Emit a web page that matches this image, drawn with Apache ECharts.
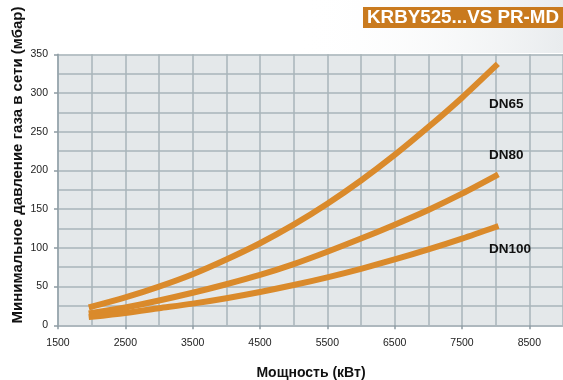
<!DOCTYPE html>
<html>
<head>
<meta charset="utf-8">
<script src="https://cdn.jsdelivr.net/npm/echarts@6/dist/echarts.min.js"></script>
<style>
html,body{margin:0;padding:0;background:#fff;}
#c{width:563px;height:380px;}
</style>
</head>
<body>
<div id="c"></div>
<script>
var power = [2000, 2500, 3000, 3500, 4000, 4500, 5000, 5500, 6000, 6500, 7000, 7500, 8000];
var dn65  = [24, 36, 50, 66, 85, 106, 130, 157, 187, 220, 256, 294, 335];
var dn80  = [16, 23, 32, 42, 53, 65, 79, 95, 112, 130, 149, 170, 193];
var dn100 = [11, 16, 22, 28, 35, 43, 52, 62, 73, 85, 98, 112, 127];
var seriesNames = ['DN65', 'DN80', 'DN100'];
var labelAnchors = [[7900, 286], [7900, 219], [7900, 98]];
var titleText = 'KRBY525...VS PR-MD';
var xTitle = 'Мощность (кВт)';
var yTitle = 'Минимальное давление газа в сети (мбар)';

function pairs(vals){ return power.map(function(p,i){ return [p, vals[i]]; }); }

var chart = echarts.init(document.getElementById('c'), null, {renderer:'canvas'});
var gridCol = '#a9b4ba';
var lineCol = '#da8a2b';
var allVals = [dn65, dn80, dn100];
var font = 'Liberation Sans, Arial, sans-serif';

var series = allVals.map(function(v, i){
  return {
    name: seriesNames[i], type: 'line', data: pairs(v), smooth: 0.3,
    showSymbol: false, symbol: 'none',
    lineStyle: {color: lineCol, width: 6, cap: 'square'},
    z: 5,
    markPoint: {
      symbol: 'circle', symbolSize: 0, silent: true,
      data: [{coord: labelAnchors[i], value: seriesNames[i]}],
      label: {show: true, position: [0, 0], align: 'left', verticalAlign: 'middle',
        formatter: seriesNames[i], color: '#111', fontWeight: 'bold', fontSize: 13.5,
        fontFamily: font}
    }
  };
});

chart.setOption({
  animation: false,
  backgroundColor: '#fff',
  grid: {left: 58, right: -2.5, top: 54.3, bottom: 54.7, show: true,
    backgroundColor: '#e4e8ea', borderWidth: 0},
  xAxis: [{
    type: 'value', min: 1500, max: 9000, interval: 1000,
    axisLine: {show: true, lineStyle: {color: gridCol, width: 1.5}},
    axisTick: {show: true, length: 4, lineStyle: {color: '#8d9ba3', width: 1.5}},
    axisLabel: {margin: 12, color: '#222', fontSize: 10.5, fontFamily: font,
      showMaxLabel: false, formatter: function(v){ return String(v); }},
    splitLine: {show: false}
  }, {
    type: 'value', min: 1500, max: 9000, interval: 500, position: 'bottom',
    axisLine: {show: false}, axisTick: {show: false}, axisLabel: {show: false},
    splitLine: {show: true, lineStyle: {color: gridCol, width: 1.5}}
  }],
  yAxis: [{
    type: 'value', min: 0, max: 350, interval: 50,
    axisLine: {show: true, lineStyle: {color: '#95a3ab', width: 1.5}},
    axisTick: {show: true, length: 4, lineStyle: {color: '#8d9ba3', width: 1.5}},
    axisLabel: {margin: 10, color: '#222', fontSize: 10.5, fontFamily: font},
    splitLine: {show: false}
  }, {
    type: 'value', min: 0, max: 350, interval: 25, position: 'left',
    axisLine: {show: false}, axisTick: {show: false}, axisLabel: {show: false},
    splitLine: {show: true, lineStyle: {color: gridCol, width: 1.5}}
  }],
  series: series,
  graphic: [
    {type: 'rect', left: 300, top: 0, shape: {width: 263, height: 53},
      style: {fill: new echarts.graphic.LinearGradient(0, 0, 1, 0.3, [
        {offset: 0, color: 'rgba(255,255,255,0)'}, {offset: 1, color: '#e9ecee'}])}, z: -1},
    {type: 'rect', left: 363, top: 7, shape: {width: 200, height: 21},
      style: {fill: '#c97a1e'}, z: 10},
    {type: 'text', left: 367, top: 8, z: 11,
      style: {text: titleText, fill: '#fff', font: 'bold 18.8px "Liberation Sans", Arial, sans-serif'}},
    {type: 'text', x: 311, y: 373, z: 11,
      style: {text: xTitle, fill: '#111', font: 'bold 14px "Liberation Sans", Arial, sans-serif',
        align: 'center', verticalAlign: 'middle'}},
    {type: 'text', x: 18, y: 165, rotation: Math.PI/2, z: 11,
      style: {text: yTitle, fill: '#111', font: 'bold 15px "Liberation Sans", Arial, sans-serif',
        align: 'center', verticalAlign: 'middle'}}
  ]
});
</script>
</body>
</html>
